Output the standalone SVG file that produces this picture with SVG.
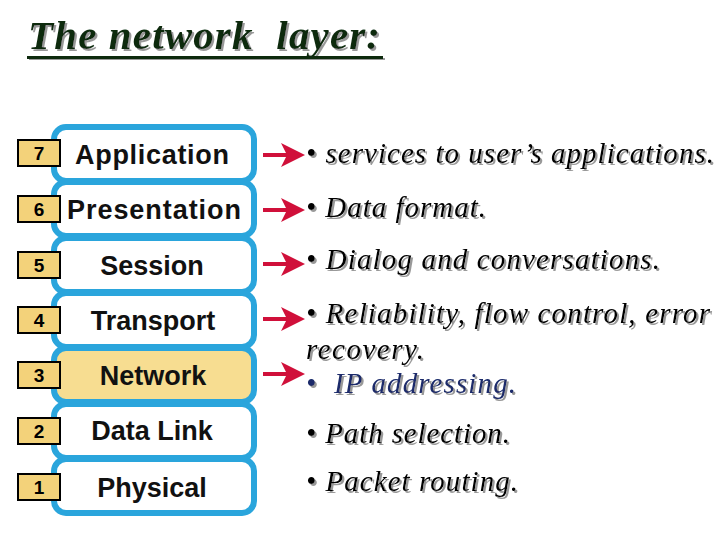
<svg xmlns="http://www.w3.org/2000/svg" width="720" height="540" viewBox="0 0 720 540">
<style>
.lay{fill:#fff;stroke:#2aa5dc;stroke-width:6}
.num{fill:#f3d27a;stroke:#000;stroke-width:2}
.nt{font-family:"Liberation Sans",Arial,sans-serif;font-weight:bold;font-size:19px;text-anchor:middle}
.lt{font-family:"Liberation Sans",Arial,sans-serif;font-weight:bold;font-size:27px;text-anchor:middle;fill:#111}
.bt{font-family:"Liberation Serif","Times New Roman",serif;font-style:italic;font-size:29px;fill:#000;filter:url(#sh)}
.ar{stroke:#d0103a;stroke-width:4;fill:none}
</style>
<defs>
<marker id="ah" markerWidth="6" markerHeight="6" refX="5" refY="3" orient="auto" markerUnits="strokeWidth"><path d="M0,0 L6,3 L0,6 L1.5,3 z" fill="#d0103a"/></marker>
<filter id="sh" x="-5%" y="-20%" width="110%" height="150%"><feDropShadow dx="2" dy="2" stdDeviation="0.5" flood-color="#999"/></filter>
</defs>
<rect width="720" height="540" fill="#fff"/>
<g id="title">
<text x="28" y="49" xml:space="preserve" textLength="352" font-family="Liberation Serif,serif" font-style="italic" font-weight="bold" font-size="41" fill="#0d2a10" filter="url(#sh)">The network  layer:</text>
<rect x="27" y="56" width="356" height="3" fill="#0d2a10" filter="url(#sh)"/>
</g>
<g id="layers">
<g id="l7"><rect class="lay" x="54" y="127" width="200" height="54" rx="12"/><rect class="num" x="18" y="140" width="42" height="26"/><text class="nt" x="39" y="160">7</text><text class="lt" x="152" y="164" textLength="154">Application</text></g>
<g id="l6"><rect class="lay" x="54" y="182" width="200" height="54" rx="12"/><rect class="num" x="18" y="196" width="42" height="26"/><text class="nt" x="39" y="216">6</text><text class="lt" x="154" y="219" textLength="174">Presentation</text></g>
<g id="l5"><rect class="lay" x="54" y="238" width="200" height="54" rx="12"/><rect class="num" x="18" y="252" width="42" height="26"/><text class="nt" x="39" y="272">5</text><text class="lt" x="152" y="275">Session</text></g>
<g id="l4"><rect class="lay" x="54" y="293" width="200" height="54" rx="12"/><rect class="num" x="18" y="307" width="42" height="26"/><text class="nt" x="39" y="327">4</text><text class="lt" x="153" y="330">Transport</text></g>
<g id="l3"><rect class="lay" x="54" y="348" width="200" height="54" rx="12" style="fill:#f7dd91"/><rect class="num" x="18" y="362" width="42" height="26"/><text class="nt" x="39" y="382">3</text><text class="lt" x="153" y="385">Network</text></g>
<g id="l2"><rect class="lay" x="54" y="404" width="200" height="54" rx="12"/><rect class="num" x="18" y="418" width="42" height="26"/><text class="nt" x="39" y="438">2</text><text class="lt" x="152" y="440">Data Link</text></g>
<g id="l1"><rect class="lay" x="54" y="459" width="200" height="54" rx="12"/><rect class="num" x="18" y="474" width="42" height="26"/><text class="nt" x="39" y="494">1</text><text class="lt" x="152" y="497">Physical</text></g>
</g>
<g id="connectors">
<line class="ar" x1="263" y1="155" x2="301" y2="155" marker-end="url(#ah)"/>
<line class="ar" x1="263" y1="210" x2="301" y2="210" marker-end="url(#ah)"/>
<line class="ar" x1="263" y1="264" x2="301" y2="264" marker-end="url(#ah)"/>
<line class="ar" x1="263" y1="319" x2="301" y2="319" marker-end="url(#ah)"/>
<line class="ar" x1="263" y1="374" x2="301" y2="374" marker-end="url(#ah)"/>
</g>
<g id="texts">
<text class="bt" x="306" y="163" textLength="408">• services to user’s applications.</text>
<text class="bt" x="306" y="217" textLength="180">• Data format.</text>
<text class="bt" x="306" y="269" textLength="354">• Dialog and conversations.</text>
<text class="bt" x="306" y="323" textLength="404">• Reliability, flow control, error</text>
<text class="bt" x="306" y="359" textLength="118">recovery.</text>
<text class="bt" x="306" y="393" xml:space="preserve" textLength="210" style="fill:#1a2a6a">•  IP addressing.</text>
<text class="bt" x="306" y="443" textLength="204">• Path selection.</text>
<text class="bt" x="306" y="491" textLength="212">• Packet routing.</text>
</g>
</svg>
